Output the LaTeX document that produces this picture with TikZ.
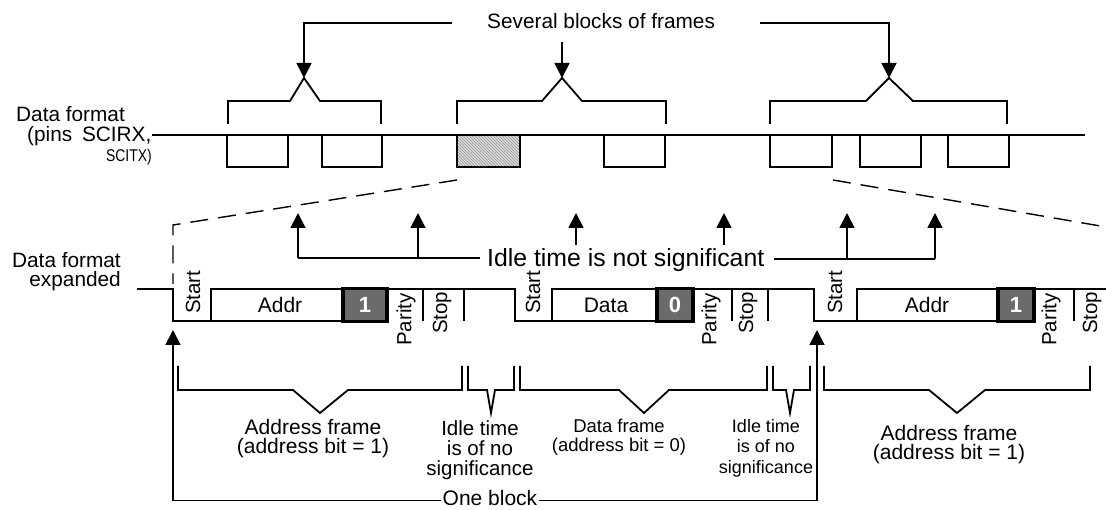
\documentclass[tikz,border=0pt]{standalone}
\usepackage{fontspec}
\setmainfont{Liberation Sans}
\usetikzlibrary{arrows.meta,patterns}
\newcommand{\myfs}[2]{\fontsize{#1pt}{#2pt}\selectfont}
\begin{document}
\begin{tikzpicture}[x=1pt,y=-1pt,
  wire/.style={line width=2.8pt},
  brk/.style={line width=1.8pt},
  arr/.style={line width=1.8pt,-{Triangle[length=15pt,width=15pt]}},
  dsh/.style={line width=1.4pt,dash pattern=on 18pt off 10pt},
  lbl/.style={inner sep=0pt,font=\myfs{20.8}{20}},
  rlbl/.style={inner sep=0pt,rotate=90,anchor=west,font=\myfs{20.5}{20}},
  bit/.style={draw,line width=3.2pt,fill=black!58,text=white,font=\myfs{22}{22}\bfseries,inner sep=0pt,minimum height=33pt},
  note/.style={anchor=north,align=center,inner sep=0pt}
]
\useasboundingbox (0,0) rectangle (1106,510);
\clip (0,0) rectangle (1106,510);

% ---------- top: data format ----------
\node[lbl,anchor=base west] (df1) at (16,122) {Data format};
\node[lbl,anchor=base west] (df2) at (27,142) {(pins\hspace{4pt} SCIRX,};
\node[anchor=base east,inner sep=0pt,font=\myfs{17}{17}] (df3) at (152,162) {\scalebox{0.82}[1]{SCITX)}};

\coordinate (lineL) at (152,135);
\coordinate (lineR) at (1085,135);
\draw[wire] (lineL) -- (lineR);

\draw[wire] (227,135) rectangle (288,167);
\draw[wire] (322,135) rectangle (382,167);
\fill[gray!30] (457,135) rectangle (520,167);
\fill[pattern=north west lines,pattern color=gray!80] (457,135) rectangle (520,167);
\draw[wire] (457,135) rectangle (520,167);
\draw[wire] (604,135) rectangle (665,167);
\draw[wire] (770,135) rectangle (832,167);
\draw[wire] (860,135) rectangle (921,167);
\draw[wire] (948,135) rectangle (1009,167);

% top brackets
\coordinate (pk1) at (304,78);
\coordinate (pk2) at (562,78);
\coordinate (pk3) at (889,78);
\draw[brk] (228,124) -- (228,101) -- (290,101) -- (pk1) -- (320,101) -- (381,101) -- (381,124);
\draw[brk] (457,124) -- (457,101) -- (542,101) -- (pk2) -- (582,101) -- (666,101) -- (666,124);
\draw[brk] (770,124) -- (770,101) -- (866,101) -- (pk3) -- (913,101) -- (1007,101) -- (1007,124);

\node[lbl,anchor=base west] (sev) at (487,29) {Several blocks of frames};
\coordinate (sevL) at (452,23);
\coordinate (sevM) at (562,42);
\coordinate (sevR) at (760,23);
\draw[arr] (sevL) -| (pk1);
\draw[arr] (sevM) -- (pk2);
\draw[arr] (sevR) -| (pk3);

% zoom dashed lines
\coordinate (zA) at (457,180);
\coordinate (zB) at (173,225);
\coordinate (zC) at (173,284);
\coordinate (zD) at (833,180);
\coordinate (zE) at (1112,228);
\draw[dsh] (zA) -- (zB) -- (zC);
\draw[dsh] (zD) -- (zE);

% ---------- idle time is not significant ----------
\node[anchor=base west,inner sep=0pt,font=\myfs{24.8}{25}] (idle) at (487,267) {Idle time is not significant};
\coordinate (iL) at (480,258);
\coordinate (iLa) at (298,258);
\coordinate (iLb) at (418,258);
\coordinate (iR) at (774,259);
\coordinate (iRa) at (847,259);
\coordinate (iRb) at (935,259);
\coordinate (iMa) at (576,245);
\coordinate (iMb) at (724,245);
\draw[brk] (iL) -- (iLa);
\draw[arr] (iLa) -- (298,213);
\draw[arr] (iLb) -- (418,213);
\draw[arr] (iMa) -- (576,213);
\draw[arr] (iMb) -- (724,213);
\draw[brk] (iR) -- (iRb);
\draw[arr] (iRa) -- (847,213);
\draw[arr] (iRb) -- (935,213);

% ---------- expanded waveform ----------
\node[lbl,anchor=base east] (de1) at (121,268) {Data format};
\node[lbl,anchor=base east] (de2) at (121,287) {expanded};

\draw[wire] (137,289) -- (173,289) -- (173,321) -- (211,321);
\draw[wire] (211,289) rectangle (343,321);
\draw[wire] (387,289) -- (515,289) -- (515,321) -- (552,321);
\draw[wire] (423,289) -- (423,321);
\draw[wire] (464,289) -- (464,321);
\draw[wire] (552,289) rectangle (657,321);
\draw[wire] (693,289) -- (814,289) -- (814,321) -- (857,321);
\draw[wire] (732,289) -- (732,321);
\draw[wire] (768,289) -- (768,321);
\draw[wire] (857,289) rectangle (998,321);
\draw[wire] (1034,289) -- (1110,289);
\draw[wire] (1074,289) -- (1074,321);

\node[bit,minimum width=44pt] (b1) at (365,305) {1};
\node[bit,minimum width=36pt] (b2) at (675,305) {0};
\node[bit,minimum width=36pt] (b3) at (1016,305) {1};

\node[lbl,font=\myfs{21}{21}] (ad1) at (280,305) {Addr};
\node[lbl,font=\myfs{21}{21}] (dt2) at (606,305) {Data};
\node[lbl,font=\myfs{21}{21}] (ad3) at (927,305) {Addr};

\node[rlbl] (st1) at (193,314) {Start};
\node[rlbl] (st2) at (533,314) {Start};
\node[rlbl] (st3) at (835,314) {Start};
\node[rlbl] (pa1) at (406,346) {Parity};
\node[rlbl] (pa2) at (711,346) {Parity};
\node[rlbl] (pa3) at (1051,346) {Parity};
\node[rlbl] (sp1) at (442,334) {Stop};
\node[rlbl] (sp2) at (748,334) {Stop};
\node[rlbl] (sp3) at (1092,334) {Stop};

% ---------- bottom brackets ----------
\draw[brk] (178,366) -- (178,390) -- (293,390) -- (320,413) -- (348,390) -- (462,390) -- (462,366);
\draw[brk] (468,366) -- (468,390) -- (487,390) -- (491,413) -- (495,390) -- (514,390) -- (514,366);
\draw[brk] (520,366) -- (520,390) -- (619,390) -- (644,413) -- (669,390) -- (767,390) -- (767,366);
\draw[brk] (773,366) -- (773,390) -- (786,390) -- (790,413) -- (794,390) -- (810,390) -- (810,366);
\draw[brk] (824,366) -- (824,390) -- (929,390) -- (957,413) -- (985,390) -- (1090,390) -- (1090,366);

\node[note,font=\myfs{21}{19}] (af1) at (313,419) {Address frame\\(address bit = 1)};
\node[note,font=\myfs{20.5}{20}] (it1) at (480,420) {Idle time\\is of no\\significance};
\node[note,font=\myfs{18.5}{19}] (dfr) at (619,419) {Data frame\\(address bit = 0)};
\node[note,font=\myfs{18}{20.5}] (it2) at (766,419) {Idle time\\is of no\\significance};
\node[note,font=\myfs{21}{19}] (af3) at (949,425) {Address frame\\(address bit = 1)};

% ---------- one block ----------
\node[inner ysep=0pt,inner xsep=2pt,anchor=base,font=\myfs{21}{21}] (ob) at (490,505) {One block};
\coordinate (tipL) at (173,330);
\coordinate (tipR) at (817,330);
\draw[arr] ([yshift=-3pt]ob.west) -| (tipL);
\draw[arr] ([yshift=-3pt]ob.east) -| (tipR);
\end{tikzpicture}
\end{document}
